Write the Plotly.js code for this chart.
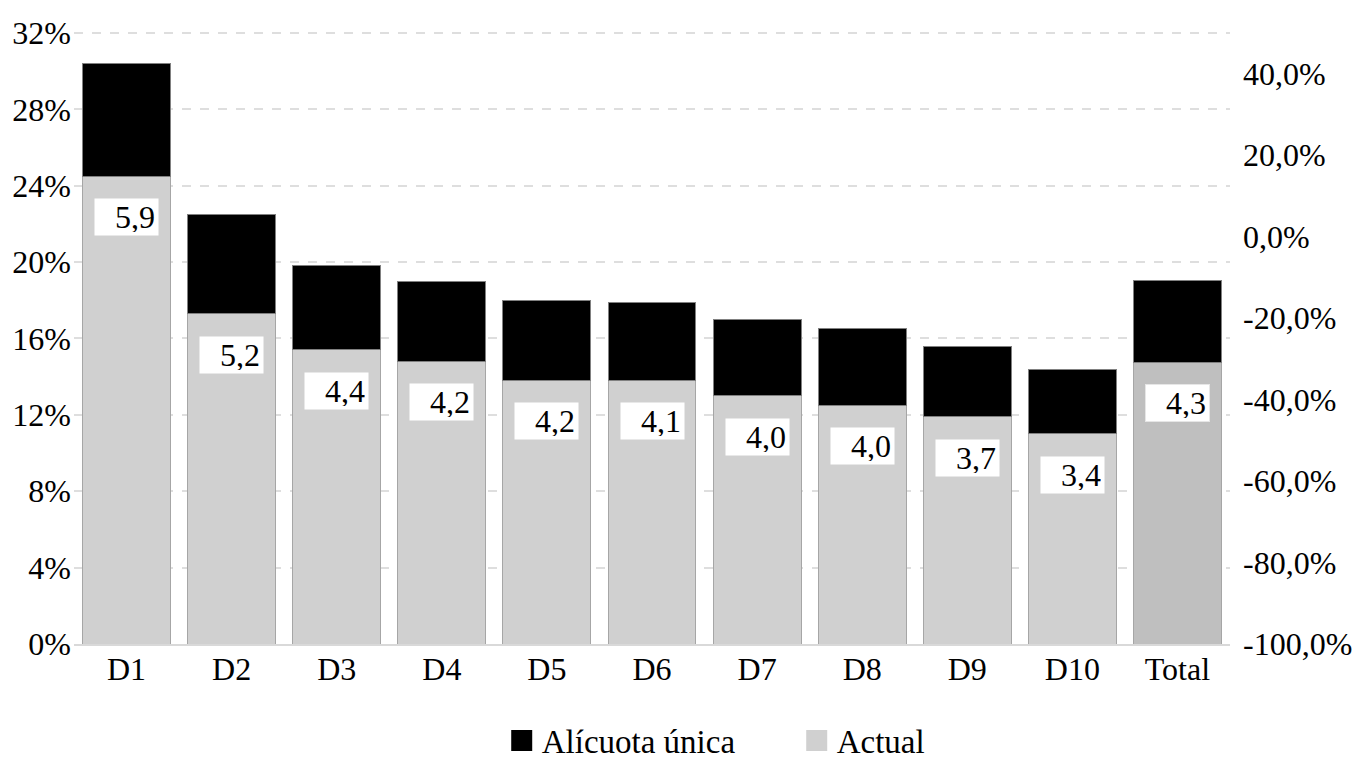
<!DOCTYPE html>
<html><head><meta charset="utf-8">
<script src="https://cdn.plot.ly/plotly-3.0.1.min.js"></script>
<style>html,body{margin:0;padding:0;background:#fff}#chart{width:1358px;height:769px}</style>
</head><body><div id="chart"></div>
<script>
const categories = ['D1','D2','D3','D4','D5','D6','D7','D8','D9','D10','Total'];
const actual = [24.5, 17.3, 15.4, 14.8, 13.8, 13.8, 13.0, 12.5, 11.9, 11.0, 14.75];
const alicuotaUnica = [5.9, 5.2, 4.4, 4.2, 4.2, 4.1, 4.0, 4.0, 3.7, 3.4, 4.3];
const leftTicks = [0, 4, 8, 12, 16, 20, 24, 28, 32];
const rightTicks = [-100, -80, -60, -40, -20, 0, 20, 40];
const seriesNames = ['Actual', 'Alícuota única'];

const FONT = '"Liberation Serif", "Times New Roman", serif';
const FS = 32;
const fmt = v => v.toFixed(1).replace('.', ',');

const actualColors = categories.map(c => c === 'Total' ? '#bfbfbf' : '#d0d0d0');

const traces = [
  {type:'bar', name:seriesNames[0], x:categories, y:actual, showlegend:false,
   marker:{color:actualColors, line:{color:'#a6a6a6', width:1}}, hoverinfo:'x+y'},
  {type:'bar', name:seriesNames[1], x:categories, y:alicuotaUnica, showlegend:false,
   marker:{color:'#000000', line:{color:'#808080', width:1}}, hoverinfo:'x+y'},
  // legend-only entries (larger square swatches)
  {type:'scatter', mode:'markers', name:seriesNames[1], x:[null], y:[null],
   marker:{symbol:'square', size:16, color:'#000000', line:{color:'#000000', width:5}},
   showlegend:true, hoverinfo:'skip'},
  {type:'scatter', mode:'markers', name:seriesNames[0], x:[null], y:[null],
   marker:{symbol:'square', size:16, color:'#d0d0d0', line:{color:'#d0d0d0', width:5}},
   showlegend:true, hoverinfo:'skip'},
  // secondary axis carrier (no visible marks)
  {type:'scatter', mode:'markers', x:[categories[0]], y:[null], yaxis:'y2',
   showlegend:false, hoverinfo:'skip', marker:{opacity:0}}
];

const annotations = categories.map((c, i) => ({
  x:c, y:actual[i], xref:'x', yref:'y', text:fmt(alicuotaUnica[i]),
  showarrow:false, yanchor:'top', yshift:-22, bgcolor:'#ffffff',
  bordercolor: c === 'Total' ? '#e6e6e6' : 'rgba(0,0,0,0)', borderwidth:1,
  borderpad:3, width:57, height:30, align:'right',
  font:{family:FONT, size:FS, color:'#000'}
}));

const layout = {
  width:1358, height:769,
  margin:{l:74, r:128, t:31, b:125, autoexpand:false},
  paper_bgcolor:'#fff', plot_bgcolor:'#fff',
  barmode:'stack', bargap:0.164,
  font:{family:FONT, size:FS, color:'#000'},
  separators:',.',
  xaxis:{type:'category', range:[-0.5, categories.length - 0.5], autorange:false,
    showline:true, linecolor:'#d9d9d9', linewidth:2,
    ticks:'', showgrid:false, automargin:false, ticklabelstandoff:-4,
    tickfont:{family:FONT, size:FS, color:'#000'}},
  yaxis:{range:[0,32.1], tickvals:leftTicks, ticktext:leftTicks.map(v => v + '%'),
    showgrid:true, gridcolor:'#dedede', gridwidth:2, griddash:'dash',
    zeroline:false, showline:false, ticks:'', ticklabelstandoff:2, automargin:false,
    tickfont:{family:FONT, size:FS, color:'#000'}},
  yaxis2:{overlaying:'y', side:'right', anchor:'x', range:[-100,50.5],
    tickvals:rightTicks, ticktext:rightTicks.map(v => fmt(v) + '%'),
    showgrid:false, zeroline:false, showline:false, ticks:'', ticklabelstandoff:12,
    automargin:false, tickfont:{family:FONT, size:FS, color:'#000'}},
  legend:{orientation:'h', x:0.37, xanchor:'left', yref:'container', y:0.037, yanchor:'middle',
    traceorder:'normal', itemsizing:'trace', font:{family:FONT, size:33, color:'#000'},
    entrywidth:250, entrywidthmode:'pixels', bgcolor:'rgba(0,0,0,0)'},
  annotations:annotations,
  showlegend:true
};

Plotly.newPlot('chart', traces, layout, {displayModeBar:false, staticPlot:true});
</script>
</body></html>
